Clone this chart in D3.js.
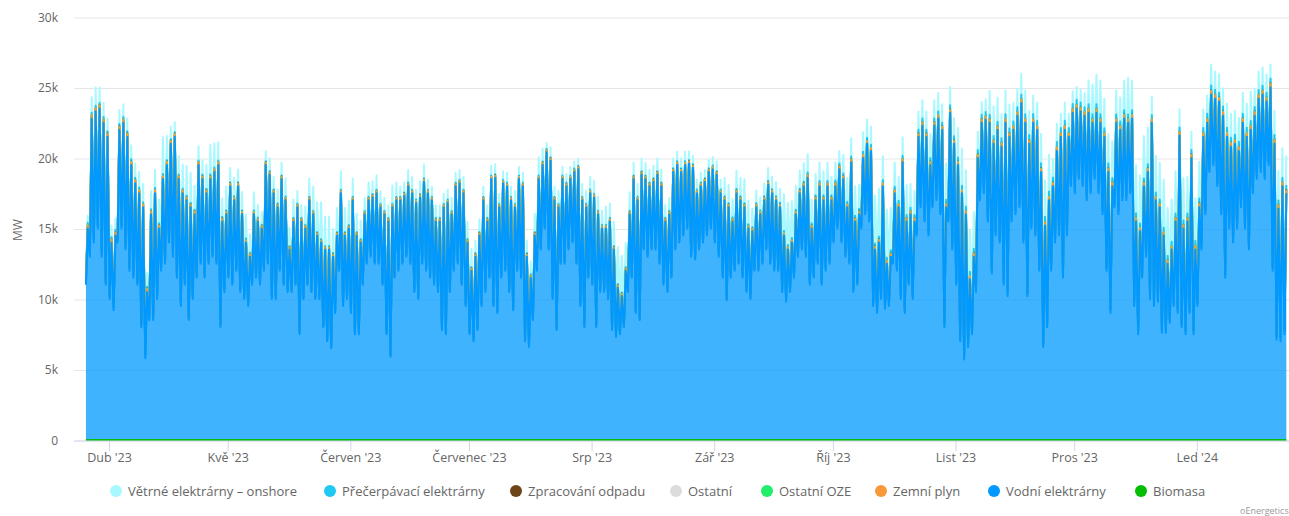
<!DOCTYPE html>
<html><head><meta charset="utf-8">
<script src="https://cdn.jsdelivr.net/npm/d3@7"></script>
<style>
html,body{margin:0;padding:0;background:#fff;}
svg{display:block;font-family:"Open Sans",sans-serif;}
</style></head>
<body><svg id="c" width="1289" height="516"></svg>
<script>
// ---- DATA (thousands of MW unless noted) ----
// one pair per day starting 26 Mar 2023: daily low and daily high of hydro output
const startDay = "2023-03-26";
const hydroMax = [
15.0,22.8,23.3,23.5,22.5,21.5,14.0,14.5,22.0,22.5,
21.5,19.5,18.2,17.5,16.5,10.5,16.0,17.5,15.0,18.5,
19.5,21.0,21.5,18.5,17.5,17.0,16.5,16.0,19.5,18.5,
17.5,18.5,19.0,19.5,15.5,16.0,18.0,17.0,18.0,16.0,
14.0,13.0,16.0,15.5,15.0,19.5,18.8,17.5,16.5,18.5,
17.0,13.5,15.5,16.5,15.5,15.0,17.0,16.0,14.5,14.0,
13.5,13.5,13.0,14.5,17.5,14.5,15.0,17.0,14.5,14.0,
16.0,17.0,17.2,17.5,16.5,16.0,
15.5,16.5,17.0,17.0,17.3,18.0,17.5,16.8,17.2,18.3,
17.5,17.0,15.5,15.5,16.5,16.8,16.0,18.0,18.2,17.5,
14.0,12.0,13.0,14.5,17.0,15.5,18.5,18.6,16.5,18.2,
18.0,17.0,16.5,18.5,18.0,13.0,11.5,14.5,18.5,19.5,
20.4,19.8,17.0,16.5,18.5,18.0,18.5,19.0,19.2,17.0,
16.5,17.5,17.2,16.0,15.0,15.0,15.5,13.5,10.8,10.2,
12.0,16.0,18.5,17.0,18.8,18.5,18.0,18.3,18.8,18.0,
15.5,16.0,19.0,19.5,19.0,19.5,
19.6,19.3,17.5,18.0,18.3,19.0,19.2,18.8,17.5,17.0,
16.5,15.5,17.5,17.0,16.5,15.0,14.8,16.5,16.0,17.0,
18.1,17.5,17.0,16.5,14.5,13.5,14.0,16.0,17.5,18.0,
18.6,15.0,17.0,18.0,17.0,18.0,17.0,18.0,19.2,18.5,
16.5,19.7,15.5,16.0,20.0,21.0,20.5,13.5,14.0,18.0,
12.5,13.0,17.5,16.5,19.7,15.5,16.0,15.5,21.5,22.3,
21.5,19.5,22.3,22.8,22.0,16.5,23.2,21.0,19.5,17.5,
16.0,11.4,13.0,20.0,22.5,22.7,
22.5,21.0,22.0,20.8,22.5,21.5,22.0,23.0,23.9,22.5,
21.0,22.5,22.0,19.0,15.2,17.0,18.0,20.5,21.5,22.0,
21.5,23.2,23.5,23.3,23.0,23.2,22.5,23.2,22.5,21.5,
19.0,18.0,22.5,22.0,22.8,22.5,22.8,15.5,14.8,18.0,
19.0,22.5,17.0,16.5,14.5,12.5,13.5,15.5,21.6,15.0,
15.5,20.0,13.5,16.5,21.5,22.5,24.5,24.2,24.0,23.0,
21.5,20.8,21.0,20.5,22.5,21.5,22.0,23.0,24.2,24.5,
24.0,25.0,21.0,16.4,18.0,17.5];
const hydroMin = [
11.0,13.0,14.0,15.0,13.0,11.0,10.0,9.2,14.0,15.0,
13.5,12.0,11.5,11.0,8.0,5.8,8.5,8.5,10.0,12.0,
12.5,14.0,13.0,11.5,9.5,11.0,8.5,10.0,11.5,12.5,
11.5,12.5,13.0,12.5,8.0,10.5,11.5,11.0,12.0,10.5,
10.0,9.5,11.0,11.5,11.0,12.0,12.5,10.0,10.0,12.0,
11.0,10.5,10.5,11.0,7.5,10.0,11.0,10.5,10.0,10.0,
8.0,7.0,6.5,9.0,12.0,9.5,10.0,9.0,7.5,7.5,
11.0,12.5,13.0,12.5,12.5,11.0,
7.5,5.9,11.5,12.0,12.5,13.0,12.5,10.5,10.0,12.5,
12.0,11.5,11.0,10.5,7.8,7.5,10.5,12.0,12.5,11.0,
9.5,7.5,7.0,7.8,9.5,10.5,11.5,9.5,9.0,11.5,
12.0,10.5,9.2,12.0,11.5,7.0,6.6,8.5,12.0,13.5,
15.0,13.5,10.0,7.8,12.5,12.5,13.5,14.0,12.5,9.5,
8.0,11.5,11.0,8.0,10.5,10.5,10.0,7.8,7.3,7.5,
8.0,10.5,11.5,9.0,8.5,13.5,13.0,13.5,13.5,12.5,
11.0,10.5,11.5,13.5,14.0,14.5,
15.0,13.0,12.8,13.5,14.0,14.5,15.0,14.0,13.0,11.5,
9.9,11.5,12.0,12.5,11.5,10.5,10.0,12.0,12.0,12.5,
13.5,12.5,12.0,12.0,10.5,9.8,10.5,11.5,13.0,13.5,
13.0,11.0,11.5,12.5,11.0,12.0,12.5,14.0,15.0,14.0,
13.0,12.5,10.5,11.0,15.0,16.0,15.5,9.5,9.0,10.0,
9.3,9.5,12.5,12.0,10.0,9.0,11.0,10.0,14.5,16.5,
15.5,14.5,16.5,17.0,16.0,8.0,15.5,13.5,11.0,7.0,
5.7,6.6,7.5,10.5,17.0,17.5,
15.5,11.8,14.5,14.0,11.0,10.2,15.5,16.0,16.5,14.0,
10.2,15.0,14.5,12.0,6.6,8.0,12.0,14.0,14.5,11.5,
14.5,18.0,17.5,18.5,18.0,17.0,17.5,18.5,17.5,16.0,
12.0,9.0,16.5,16.0,17.0,17.0,17.5,9.5,7.5,11.5,
13.0,10.0,9.5,9.8,7.6,7.6,8.3,9.5,9.0,8.0,
7.5,9.0,7.5,9.5,13.5,16.0,19.0,19.5,18.0,16.0,
11.5,15.0,14.0,15.0,16.5,15.0,13.5,17.5,18.5,19.0,
18.5,19.5,12.0,7.1,7.0,7.5];
const windDaily = [
0.5,1.1,1.3,1.1,1.0,0.9,0.8,0.8,1.0,0.9,
0.9,1.0,1.0,1.1,1.3,1.0,1.3,1.3,1.7,2.6,
1.7,0.9,0.7,1.3,1.7,2.1,2.1,1.7,1.0,1.0,
1.7,2.1,1.7,1.3,1.3,1.7,1.0,1.3,0.9,1.3,
1.7,1.3,1.3,0.9,0.9,0.7,0.9,0.9,1.0,0.9,
1.3,1.3,1.3,0.9,0.9,1.3,1.3,1.7,2.1,2.6,
2.1,2.1,1.7,1.7,1.3,1.7,1.7,1.3,1.3,1.3,
0.9,1.0,0.9,1.0,0.9,0.9,
0.9,1.3,1.0,0.7,0.7,0.9,0.9,0.7,0.9,1.0,
0.7,0.7,0.9,0.9,0.7,0.7,0.9,0.7,0.7,0.9,
1.2,1.3,0.9,0.9,0.7,0.9,0.7,0.7,0.7,0.6,
0.7,0.7,0.9,0.6,0.7,0.9,0.9,1.3,1.3,0.9,
0.4,0.7,0.7,0.9,0.6,0.6,0.6,0.5,0.5,0.9,
0.9,0.9,0.9,1.0,1.0,1.3,1.0,1.7,2.6,2.6,
1.7,1.3,0.9,0.9,0.9,0.9,0.9,0.9,0.9,0.9,
0.9,0.9,0.7,0.7,0.7,0.7,
0.6,0.6,0.7,0.7,0.6,0.6,0.6,0.7,0.7,1.3,
1.3,1.3,1.3,1.3,1.7,1.7,1.3,0.9,0.9,0.9,
0.9,0.9,1.0,1.0,2.6,3.0,2.6,1.7,1.3,1.3,
1.3,1.7,1.5,1.3,1.7,1.3,1.3,1.3,0.9,1.3,
1.7,1.3,2.1,1.7,1.4,1.3,1.3,3.4,3.4,1.7,
3.4,3.0,1.7,1.7,1.3,2.1,1.7,1.7,1.3,1.3,
1.3,1.7,1.3,1.3,1.3,2.6,1.3,1.3,2.1,2.6,
2.6,3.0,2.6,1.3,0.9,0.9,
1.7,2.1,1.7,1.7,1.7,1.7,1.3,1.3,1.5,1.7,
1.7,1.3,1.3,2.1,2.6,2.6,1.3,1.3,1.0,1.3,
1.0,0.9,0.9,0.9,1.0,1.7,2.1,2.1,2.4,2.1,
2.1,2.6,1.7,1.7,2.1,2.6,2.1,3.4,3.4,3.0,
2.6,1.3,2.6,2.6,3.4,3.4,3.0,3.0,1.3,3.0,
2.6,1.3,3.0,2.6,1.3,1.3,1.5,1.3,1.3,1.3,
1.7,1.7,1.7,1.7,1.5,1.7,2.1,1.3,1.3,1.3,
1.3,1.0,1.7,2.1,2.1,2.1];
// weekly values (MW), weeks starting 26 Mar 2023
const gasWeekly = [180,180,170,160,150,130,120,110,100,100,100,100,100,100,100,100,100,100,110,110,110,110,110,120,120,130,140,150,160,170,180,180,190,200,200,210,210,210,200,190,210,220,220,210];
const pumpedWeekly = [150,150,120,100,100,80,80,80,80,80,80,80,80,80,80,80,80,80,80,80,80,80,80,100,100,120,150,180,200,220,250,280,300,320,350,350,320,300,280,300,350,350,330,300];
// monthly values (MW), months Mar 2023 .. Jan 2024
const wasteMonthly = [30,30,30,30,30,30,30,30,30,30,30];
const otherMonthly = [20,20,20,20,20,20,20,20,20,20,20];
const otherRenewMonthly = [20,20,20,20,20,20,20,20,20,20,20];
const biomassMonthly = [40,40,40,40,40,40,40,40,40,40,40];
const yTicks = [0,5000,10000,15000,20000,25000,30000];
const monthTickLabels = ["Dub '23","Kvě '23","Červen '23","Červenec '23","Srp '23","Zář '23","Říj '23","List '23","Pros '23","Led '24"];
const seriesNames = ["Větrné elektrárny – onshore","Přečerpávací elektrárny","Zpracování odpadu","Ostatní","Ostatní OZE","Zemní plyn","Vodní elektrárny","Biomasa"];
const seriesKeys = ["wind","pumped","waste","other","otherRenew","gas","hydro","biomass"];
const seriesColors = ["#a8f8ff","#1fc9f2","#6e4419","#dcdcdc","#21ee6b","#f7993b","#0099ff","#05bd05"];

// ---- BUILD ROWS ----
const DAY = 864e5, HOUR = 36e5;
const t0 = Date.parse(startDay + "T00:00:00Z");
const rows = [];
hydroMax.forEach((hi, d) => {
  const week = Math.floor(d / 7);
  const dt = new Date(t0 + d * DAY);
  const mi = (dt.getUTCFullYear() - 2023) * 12 + dt.getUTCMonth() - 2;
  const base = {
    wind: windDaily[d] * 1000, pumped: pumpedWeekly[week], waste: wasteMonthly[mi],
    other: otherMonthly[mi], otherRenew: otherRenewMonthly[mi], gas: gasWeekly[week],
    biomass: biomassMonthly[mi]
  };
  rows.push(Object.assign({t: new Date(t0 + d * DAY + 4 * HOUR), hydro: hydroMin[d] * 1000}, base));
  rows.push(Object.assign({t: new Date(t0 + d * DAY + 15 * HOUR), hydro: hi * 1000}, base));
});

// ---- SCALES ----
const svg = d3.select("#c");
const pL = 74, pR = 1289, pT = 17.5, pB = 440.5;
const x = d3.scaleUtc()
  .domain([Date.UTC(2023,2,23,3,36), Date.UTC(2024,0,24,7,12)])
  .range([pL, pR]);
const y = d3.scaleLinear().domain([0, 30000]).range([pB, pT]);

// grid + y labels
const yAxis = d3.axisLeft(y).tickValues(yTicks).tickSize(-(pR - pL))
  .tickFormat(v => v === 0 ? "0" : (v / 1000) + "k");
const gy = svg.append("g").attr("transform", `translate(${pL},0)`).call(yAxis);
gy.select(".domain").remove();
gy.selectAll(".tick line").attr("stroke", "#e6e6e6").attr("stroke-width", 1);
gy.selectAll(".tick text").attr("x", -16).attr("dy", "0.32em").attr("fill", "#666")
  .style("font-size", "12px").style("font-family", "Open Sans, sans-serif");

svg.append("text").attr("transform", "translate(22,230) rotate(-90)")
  .attr("text-anchor", "middle").attr("fill", "#666").style("font-size", "12px").text("MW");

// stacked areas
const stackOrder = ["biomass","hydro","gas","otherRenew","other","waste","pumped","wind"];
const stacked = d3.stack().keys(stackOrder)(rows);
const byKey = {};
stacked.forEach(s => byKey[s.key] = s);

svg.append("clipPath").attr("id", "clip").append("rect")
  .attr("x", pL).attr("y", 0).attr("width", pR - pL).attr("height", pB + 2);
const plot = svg.append("g").attr("clip-path", "url(#clip)");

const area = d3.area().x(p => x(p.data.t)).y0(p => y(p[0])).y1(p => y(p[1]));
const line = d3.line().x(p => x(p.data.t)).y(p => y(p[1]));

seriesKeys.forEach((k, i) => {
  const s = byKey[k];
  plot.append("path").datum(s).attr("d", area)
    .attr("fill", seriesColors[i]).attr("fill-opacity", 0.75);
  plot.append("path").datum(s).attr("d", line)
    .attr("fill", "none").attr("stroke", seriesColors[i]).attr("stroke-width", 2)
    .attr("stroke-linejoin", "round");
});

// x axis
const monthTicks = d3.range(10).map(i => new Date(Date.UTC(2023, 3 + i, 1)));
const xAxis = d3.axisBottom(x).tickValues(monthTicks).tickSize(10)
  .tickFormat((dd, i) => monthTickLabels[i]);
const gx = svg.append("g").attr("transform", `translate(0,${pB + 0.5})`).call(xAxis);
gx.select(".domain").attr("stroke", "#ccd6eb").attr("d", `M${pL},0H${pR}`);
gx.selectAll(".tick line").attr("stroke", "#ccd6eb");
gx.selectAll(".tick text").attr("fill", "#666").attr("y", 12)
  .style("font-size", "12.5px").style("font-family", "Open Sans, sans-serif");

// legend
const legendX = [116, 330, 516, 676, 767, 881, 994, 1141];
const lg = svg.append("g");
seriesNames.forEach((n, i) => {
  const g = lg.append("g").attr("transform", `translate(${legendX[i]},491)`);
  g.append("circle").attr("r", 6).attr("fill", seriesColors[i]);
  g.append("text").attr("x", 12).attr("dy", "0.35em").attr("fill", "#666")
    .style("font-size", "13px").text(n);
});

svg.append("text").attr("x", 1240).attr("y", 514).attr("fill", "#999")
  .style("font-size", "9px").text("oEnergetics");
</script></body></html>
